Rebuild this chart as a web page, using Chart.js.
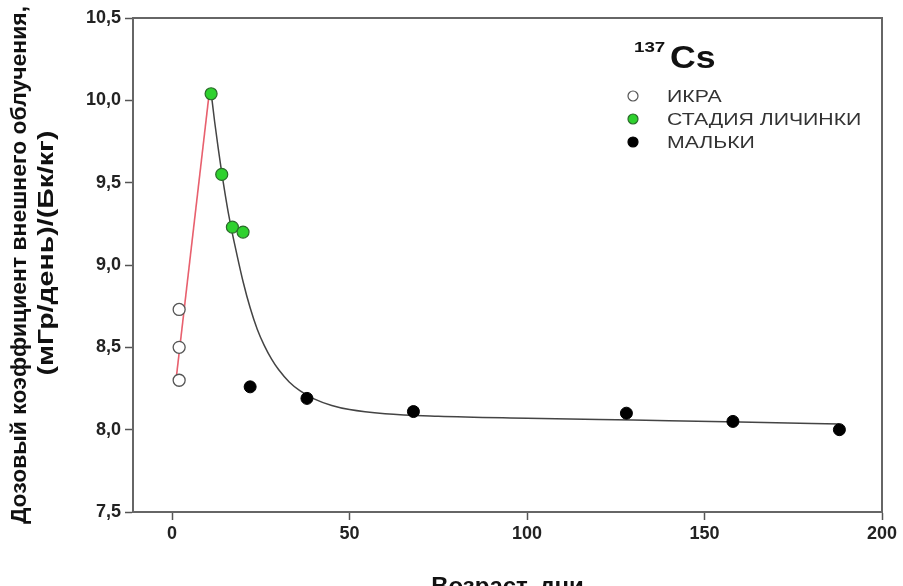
<!DOCTYPE html>
<html><head><meta charset="utf-8">
<script src="https://cdn.jsdelivr.net/npm/chart.js@4/dist/chart.umd.min.js"></script>
<style>
html,body{margin:0;padding:0;background:#fff;overflow:hidden;width:903px;height:586px}
#wrap{position:relative;width:903px;height:610px}
</style></head>
<body><div id="wrap"><canvas id="c"></canvas></div>
<script>
// ---- data ----
const xTickValues = [0, 50, 100, 150, 200];
const roeX = [2, 2, 2];
const roeY = [8.73, 8.50, 8.30];
const larvaX = [11, 14, 17, 20];
const larvaY = [10.04, 9.55, 9.23, 9.20];
const fryX = [22, 38, 68, 128, 158, 188];
const fryY = [8.26, 8.19, 8.11, 8.10, 8.05, 8.00];
const redLineX = [1, 10.5];
const redLineY = [8.28, 10.05];
const fitX = [11, 12, 13, 14, 15, 16, 17, 18, 20, 22, 24, 26, 28, 30, 33, 36, 40, 45, 50, 60, 75, 100, 130, 160, 188];
const fitY = [10.05, 9.87, 9.71, 9.56, 9.425, 9.30, 9.19, 9.09, 8.90, 8.74, 8.61, 8.51, 8.43, 8.365, 8.29, 8.237, 8.187, 8.147, 8.122, 8.097, 8.082, 8.07, 8.058, 8.046, 8.035];
const seriesNames = ['ИКРА', 'СТАДИЯ ЛИЧИНКИ', 'МАЛЬКИ'];
const legendMass = '137';
const legendElement = 'Cs';
const xTitle = 'Возраст, дни';
const yTitle = ['Дозовый коэффициент внешнего облучения,', '(мГр/день)/(Бк/кг)'];

const FONT = "Arial, 'Liberation Sans', sans-serif";
const pts = (xs, ys) => xs.map((x, i) => ({x: x, y: ys[i]}));

const framePlugin = {
  id: 'frame',
  afterDatasetsDraw(chart) {
    const {ctx, chartArea: a} = chart;
    ctx.save();
    ctx.strokeStyle = '#666';
    ctx.lineWidth = 2;
    ctx.beginPath();
    ctx.moveTo(a.left, a.top); ctx.lineTo(a.right, a.top); ctx.lineTo(a.right, a.bottom);
    ctx.stroke();
    ctx.restore();
  }
};

// y-axis title, two lines, each stretched along its direction like the reference
const yTitlePlugin = {
  id: 'yTitle',
  afterDraw(chart) {
    const ctx = chart.ctx;
    const lineX = [20, 47];
    const lineLen = [518, 245];
    const lineCy = [265, 253];
    ctx.save();
    ctx.fillStyle = '#111';
    ctx.font = 'bold 22px ' + FONT;
    ctx.textAlign = 'center';
    ctx.textBaseline = 'middle';
    yTitle.forEach((t, i) => {
      const w = ctx.measureText(t).width;
      ctx.save();
      ctx.translate(lineX[i], lineCy[i]);
      ctx.rotate(-Math.PI / 2);
      ctx.scale(lineLen[i] / w, 1);
      ctx.fillText(t, 0, 0);
      ctx.restore();
    });
    ctx.restore();
  }
};

const legendPlugin = {
  id: 'customLegend',
  afterDraw(chart) {
    const ctx = chart.ctx;
    ctx.save();
    ctx.fillStyle = '#111';
    ctx.textBaseline = 'alphabetic';
    ctx.textAlign = 'left';
    ctx.font = 'bold 15px ' + FONT;
    ctx.save(); ctx.translate(634, 52); ctx.scale(1.25, 1); ctx.fillText(legendMass, 0, 0); ctx.restore();
    ctx.font = 'bold 31px ' + FONT;
    ctx.save(); ctx.translate(670, 68); ctx.scale(1.15, 1); ctx.fillText(legendElement, 0, 0); ctx.restore();
    const ds = [chart.data.datasets[0], chart.data.datasets[1], chart.data.datasets[2]];
    const rowsY = [96, 119, 142];
    ds.forEach((d, i) => {
      ctx.beginPath();
      ctx.arc(633, rowsY[i], 5, 0, Math.PI * 2);
      ctx.fillStyle = d.backgroundColor;
      ctx.fill();
      ctx.lineWidth = 1.2;
      ctx.strokeStyle = d.borderColor;
      ctx.stroke();
      ctx.fillStyle = '#333';
      ctx.font = '17px ' + FONT;
      ctx.textBaseline = 'middle';
      ctx.save(); ctx.translate(667, rowsY[i] + 1); ctx.scale(1.25, 1); ctx.fillText(seriesNames[i], 0, 0); ctx.restore();
    });
    ctx.restore();
  }
};

new Chart(document.getElementById('c'), {
  type: 'scatter',
  data: {
    datasets: [
      {label: seriesNames[0], data: pts(roeX, roeY), backgroundColor: '#ffffff', borderColor: '#555', borderWidth: 1.3, pointRadius: 6, order: 0},
      {label: seriesNames[1], data: pts(larvaX, larvaY), backgroundColor: '#2ed12e', borderColor: '#2a6a2a', borderWidth: 1.2, pointRadius: 6, order: 0},
      {label: seriesNames[2], data: pts(fryX, fryY), backgroundColor: '#000000', borderColor: '#000000', borderWidth: 1, pointRadius: 6, order: 0},
      {type: 'line', label: 'red', data: pts(redLineX, redLineY), borderColor: '#e8606e', borderWidth: 1.6, pointRadius: 0, fill: false, order: 1},
      {type: 'line', label: 'fit', data: pts(fitX, fitY), borderColor: '#444', borderWidth: 1.5, pointRadius: 0, fill: false, cubicInterpolationMode: 'monotone', order: 1}
    ]
  },
  options: {
    responsive: true,
    maintainAspectRatio: false,
    animation: false,
    layout: {padding: {top: 18, right: 21, left: 0, bottom: 0}},
    plugins: {legend: {display: false}, tooltip: {enabled: false}},
    scales: {
      x: {
        type: 'linear', min: -11, max: 200,
        afterBuildTicks: s => { s.ticks = xTickValues.map(v => ({value: v})); },
        afterFit: s => { s.height = 98; },
        grid: {drawOnChartArea: false, drawTicks: true, tickLength: 8, tickColor: '#555', tickWidth: 1.5},
        border: {display: true, color: '#666', width: 2},
        ticks: {color: '#222', padding: 3, maxRotation: 0, font: {family: FONT, size: 18, weight: 'bold'}},
        title: {display: true, text: xTitle, color: '#111', padding: {top: 0, bottom: 8}, font: {family: FONT, size: 24, weight: 'bold', lineHeight: 1.2}}
      },
      y: {
        type: 'linear', min: 7.5, max: 10.5,
        afterFit: s => { s.width = 133; },
        grid: {drawOnChartArea: false, drawTicks: true, tickLength: 8, tickColor: '#555', tickWidth: 1.5},
        border: {display: true, color: '#666', width: 2},
        ticks: {stepSize: 0.5, color: '#222', padding: 4, font: {family: FONT, size: 18, weight: 'bold'},
          callback: v => v.toFixed(1).replace('.', ',')},
        title: {display: false, text: yTitle}
      }
    }
  },
  plugins: [framePlugin, yTitlePlugin, legendPlugin]
});
</script>
</body></html>
